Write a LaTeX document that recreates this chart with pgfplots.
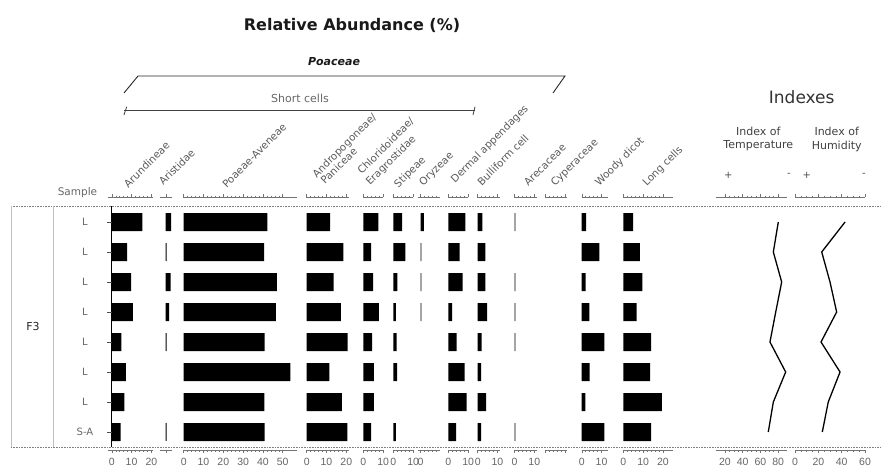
\documentclass[border=0pt]{standalone}
\usepackage{fontspec}
\setmainfont{DejaVu Sans}
\newfontfamily\tickfont{Liberation Sans}
\usepackage{pgfplots}
\pgfplotsset{compat=1.18}
\pgfplotsset{
  panel/.style={
    scale only axis, height=252.5pt, x=1.98pt,
    ymin=0.183, ymax=8.6, y dir=reverse,
    axis x line=box, axis y line=none,
    tick align=outside, major tick length=3pt, minor tick length=1.8pt,
    xticklabel pos=lower,
    xticklabel style={font=\tickfont\fontsize{10.5}{11}\selectfont, text=black!60, inner sep=5pt},
    axis line style={black!55, line width=0.5pt},
    every tick/.append style={black!55, line width=0.4pt},
    minor x tick num=4,
    anchor=north west, clip=false,
    /pgf/number format/assume math mode=true,
  },
  bars/.style={xbar, bar width=18pt, fill=black, draw=none},
}
\tikzset{
  lab/.style={rotate=45, anchor=base west, inner sep=0pt, font=\fontsize{10.3}{11}\selectfont, text=black!65},
}
\begin{document}
\begin{tikzpicture}[x=1pt,y=1pt]
\useasboundingbox (0,0) rectangle (881,473);

% frame lines
\draw[black!50, densely dotted, line width=0.6pt] (11,267) -- (881,267);
\draw[black!50, densely dotted, line width=0.6pt] (11,26) -- (881,26);
\draw[black!25, line width=0.5pt] (11.7,267) -- (11.7,26);
\draw[black!25, line width=0.5pt] (53.3,267) -- (53.3,26);
\draw[black, line width=0.6pt] (111.7,267) -- (111.7,26);
\foreach \yy in {251,221,191,161,131,101,71,41} {\draw[black!70, line width=0.5pt] (107,\yy) -- (111.7,\yy);}
\foreach \yy in {251,221,191,161,131,101,71} {\node[font=\fontsize{10}{11}\selectfont, text=black!60] at (85,\yy) {L};}
\node[font=\fontsize{10}{11}\selectfont, text=black!60] at (85,41) {S-A};
\node[font=\fontsize{11}{12}\selectfont, text=black!85] at (33,146) {F3};
\node[font=\fontsize{10.5}{12}\selectfont, text=black!60] at (77.5,280) {Sample};

% titles
\node[font=\bfseries\fontsize{16}{18}\selectfont, text=black!90] at (352,448) {Relative Abundance (\%)};
\node[font=\bfseries\itshape\fontsize{11}{12}\selectfont, text=black!90] at (334,411) {Poaceae};
\draw[black!85, line width=0.9pt] (124,380) -- (138,397) -- (565,397) -- (553,380);
\draw[black!75, line width=0.8pt] (124,362.3) -- (475,362.3);
\draw[black!75, line width=0.8pt] (124,358) -- (126.7,366.3);
\draw[black!75, line width=0.8pt] (475,366.3) -- (473,358);
\node[font=\fontsize{11}{12}\selectfont, text=black!60] at (300,374.7) {Short cells};
\node[font=\fontsize{17}{19}\selectfont, text=black!80] at (801.7,376.3) {Indexes};
\node[font=\fontsize{11}{12}\selectfont, text=black!75] at (758.3,341.3) {Index of};
\node[font=\fontsize{11}{12}\selectfont, text=black!75] at (758.3,327) {Temperature};
\node[font=\fontsize{11}{12}\selectfont, text=black!75] at (836.7,341.3) {Index of};
\node[font=\fontsize{11}{12}\selectfont, text=black!75] at (836.7,327) {Humidity};
\node[font=\fontsize{10}{11}\selectfont, text=black!70] at (728.3,298) {+};
\node[font=\fontsize{10}{11}\selectfont, text=black!70] at (789,298) {-};
\node[font=\fontsize{10}{11}\selectfont, text=black!70] at (806.7,298) {+};
\node[font=\fontsize{10}{11}\selectfont, text=black!70] at (864,298) {-};

% rotated taxon labels
\node[lab] at (128.3,284.7) {Arundineae};
\node[lab] at (163.3,287) {Aristidae};
\node[lab] at (226.7,284.7) {Poaeae-Aveneae};
\node[lab] at (316.7,294.7) {Andropogoneae/};
\node[lab] at (325,288) {Paniceae};
\node[lab] at (361.7,298) {Chloridoideae/};
\node[lab] at (370,287) {Eragrostidae};
\node[lab] at (398.3,284.7) {Stipeae};
\node[lab] at (423.3,286.3) {Oryzeae};
\node[lab] at (455,289.7) {Dermal appendages};
\node[lab] at (481.7,286.3) {Bulliform cell};
\node[lab] at (528.3,286.3) {Arecaceae};
\node[lab] at (555,286.3) {Cyperaceae};
\node[lab] at (599.3,286.3) {Woody dicot};
\node[lab] at (646.7,286.3) {Long cells};

% Arundineae
\begin{axis}[panel, at={(108pt,275.5pt)}, xmin=-1.9, xmax=20.9, xtick={0,10,20}]
\addplot[bars] coordinates {(15.5,1) (7.7,2) (9.8,3) (10.6,4) (4.9,5) (7.1,6) (6.4,7) (4.5,8)};
\end{axis}
% Aristidae
\begin{axis}[panel, at={(160pt,275.5pt)}, xmin=-2.9, xmax=3.2, xtick={0}, xticklabels={}, minor x tick num=1]
\addplot[bars] coordinates {(2.7,1) (0.5,2) (2.5,3) (1.7,4) (0.4,5) (0.4,8)};
\end{axis}
% Poaeae-Aveneae
\begin{axis}[panel, at={(183pt,275.5pt)}, xmin=-0.35, xmax=57.2, xtick={0,10,20,30,40,50}]
\addplot[bars] coordinates {(42.2,1) (40.6,2) (47.1,3) (46.5,4) (40.9,5) (53.9,6) (40.7,7) (40.9,8)};
\end{axis}
% Andropogoneae
\begin{axis}[panel, at={(306pt,275.5pt)}, xmin=-0.35, xmax=21.4, xtick={0,10,20}]
\addplot[bars] coordinates {(11.8,1) (18.5,2) (13.6,3) (17.3,4) (20.7,5) (11.4,6) (17.8,7) (20.5,8)};
\end{axis}
% Chloridoideae
\begin{axis}[panel, at={(363pt,275.5pt)}, xmin=-0.15, xmax=10, xtick={0,10}]
\addplot[bars] coordinates {(7.6,1) (3.9,2) (5.0,3) (7.9,4) (4.4,5) (5.4,6) (5.4,7) (4.0,8)};
\end{axis}
% Stipeae
\begin{axis}[panel, at={(393pt,275.5pt)}, xmin=-0.15, xmax=10, xtick={0,10}]
\addplot[bars] coordinates {(4.5,1) (6.1,2) (2.0,3) (1.3,4) (1.7,5) (1.9,6) (1.3,8)};
\end{axis}
% Oryzeae
\begin{axis}[panel, at={(418pt,275.5pt)}, xmin=-1.26, xmax=9.85, xtick={0,10}]
\addplot[bars] coordinates {(1.7,1) (0.5,2) (0.4,3) (0.5,4)};
\end{axis}
% Dermal appendages
\begin{axis}[panel, at={(448pt,275.5pt)}, xmin=-0.15, xmax=10, xtick={0,10}]
\addplot[bars] coordinates {(8.6,1) (5.7,2) (7.2,3) (1.9,4) (4.2,5) (8.2,6) (9.3,7) (4.0,8)};
\end{axis}
% Bulliform cell
\begin{axis}[panel, at={(477pt,275.5pt)}, xmin=-0.35, xmax=11.3, xtick={0,10}]
\addplot[bars] coordinates {(2.4,1) (3.9,2) (3.9,3) (4.7,4) (2.0,5) (1.7,6) (4.2,7) (1.7,8)};
\end{axis}
% Arecaceae
\begin{axis}[panel, at={(514pt,275.5pt)}, xmin=-0.25, xmax=11.4, xtick={0,10}]
\addplot[bars] coordinates {(0.4,1) (0.4,3) (0.4,4) (0.4,5) (0.4,8)};
\end{axis}
% Cyperaceae
\begin{axis}[panel, at={(545pt,275.5pt)}, xmin=0, xmax=11, xtick={0,10}, xticklabels={}]
\end{axis}
% Woody dicot
\begin{axis}[panel, at={(581.7pt,275.5pt)}, xmin=0, xmax=13.2, xtick={0,10}]
\addplot[bars] coordinates {(2.2,1) (8.9,2) (2.0,3) (3.9,4) (11.4,5) (4.0,6) (1.9,7) (11.4,8)};
\end{axis}
% Long cells
\begin{axis}[panel, at={(622.7pt,275.5pt)}, xmin=-0.3, xmax=25.3, xtick={0,10,20}]
\addplot[bars] coordinates {(5.0,1) (8.4,2) (9.6,3) (6.7,4) (14.0,5) (13.5,6) (19.5,7) (14.1,8)};
\end{axis}
% Index of Temperature
\begin{axis}[panel, at={(716pt,275.5pt)}, x=0.8875pt, xmin=10, xmax=90, xtick={20,40,60,80}, minor x tick num=3]
\addplot[black, line width=1.3pt] coordinates {(80.2,1) (74.6,2) (84.0,3) (77.3,4) (70.8,5) (88.5,6) (74.6,7) (68.9,8)};
\end{axis}
% Index of Humidity
\begin{axis}[panel, at={(795pt,275.5pt)}, x=1.1667pt, xmin=0, xmax=60, xtick={0,20,40,60}, minor x tick num=3]
\addplot[black, line width=1.3pt] coordinates {(42.9,1) (22.9,2) (30.0,3) (35.7,4) (22.3,5) (38.6,6) (28.5,7) (23.4,8)};
\end{axis}
\end{tikzpicture}
\end{document}
